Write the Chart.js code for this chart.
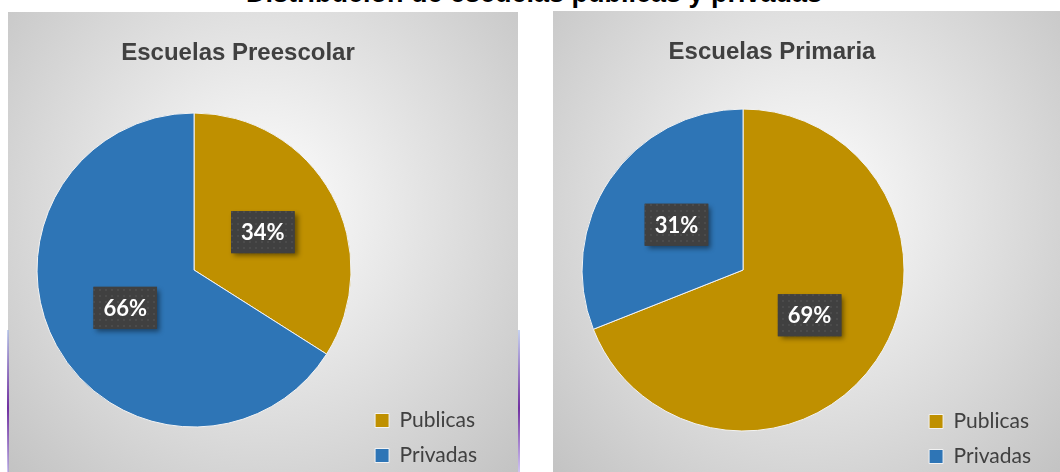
<!DOCTYPE html>
<html lang="es">
<head>
<meta charset="utf-8">
<title>Distribución de escuelas públicas y privadas</title>
<script src="https://cdn.jsdelivr.net/npm/chart.js@4.4.1/dist/chart.umd.min.js"></script>
<style>
  html, body { margin: 0; padding: 0; background: #fff; }
  body { width: 1060px; height: 472px; overflow: hidden; position: relative; }
  #main-title {
    position: absolute; left: 0; width: 1068px; top: -22px; text-align: center;
    font: bold 27px "Liberation Sans", Arial, sans-serif; color: #000; white-space: nowrap;
  }
  .panel {
    position: absolute;
    background: radial-gradient(ellipse at 50% 42%, #ffffff 0%, #f1f1f1 22%, #d9d9d9 62%, #c2c2c2 100%);
  }
  #panel-pre { left: 8px; top: 12px; width: 510px; height: 468px; }
  #panel-pri { left: 553px; top: 11px; width: 507px; height: 470px; }
  .panel canvas { position: absolute; left: 0; top: 0; }
  .panel-title {
    position: absolute; top: 26px; text-align: center; white-space: nowrap;
    font: bold 24px "Liberation Sans", Arial, sans-serif; color: #404040;
  }
  #panel-pre .panel-title { left: 0; width: 460px; }
  #panel-pri .panel-title { left: 0; width: 438px; }
  .edge {
    position: absolute; width: 2px; top: 330px; height: 142px;
    background: linear-gradient(to bottom, rgba(160,180,230,0.6), #7030a0 55%, rgba(160,140,230,0.5));
  }
</style>
</head>
<body>
<div id="main-title">Distribución de escuelas públicas y privadas</div>
<div class="panel" id="panel-pre"><canvas id="chart-pre"></canvas><div class="panel-title"></div></div>
<div class="panel" id="panel-pri"><canvas id="chart-pri"></canvas><div class="panel-title"></div></div>
<div class="edge" style="left:7px"></div>
<div class="edge" style="left:518px"></div>
<script>
"use strict";

const categories = ["Publicas", "Privadas"];
const preescolarValues = [34, 66];
const primariaValues = [69, 31];
const chartTitles = ["Escuelas Preescolar", "Escuelas Primaria"];
const sliceColors = ["#BF9000", "#2E75B6"];

// small dotted texture for the dark label boxes
function labelPattern(ctx) {
  const c = document.createElement("canvas");
  c.width = 6; c.height = 6;
  const p = c.getContext("2d");
  p.fillStyle = "#404040";
  p.fillRect(0, 0, 6, 6);
  p.fillStyle = "#4b4b4b";
  p.fillRect(1, 1, 2, 2);
  return ctx.createPattern(c, "repeat");
}

const percentBoxes = {
  id: "percentBoxes",
  afterDatasetsDraw(chart) {
    const ctx = chart.ctx;
    const meta = chart.getDatasetMeta(0);
    const values = chart.data.datasets[0].data;
    ctx.save();
    ctx.font = "bold 22px Lato, 'Open Sans', sans-serif";
    ctx.textAlign = "center";
    ctx.textBaseline = "middle";
    meta.data.forEach((arc, i) => {
      const { x, y } = arc.tooltipPosition();
      const text = `${values[i]}%`;
      const w = ctx.measureText(text).width + 20;
      const h = 42;
      ctx.save();
      ctx.shadowColor = "rgba(0,0,0,0.45)";
      ctx.shadowBlur = 5;
      ctx.shadowOffsetX = 3;
      ctx.shadowOffsetY = 3;
      ctx.fillStyle = "#404040";
      ctx.fillRect(x - w / 2, y - h / 2, w, h);
      ctx.restore();
      ctx.fillStyle = labelPattern(ctx);
      ctx.fillRect(x - w / 2, y - h / 2, w, h);
      ctx.fillStyle = "#ffffff";
      ctx.fillText(text, x, y + 1);
    });
    ctx.restore();
  },
};

function pieChart(canvasId, values, radius, padding) {
  const canvas = document.getElementById(canvasId);
  const panel = canvas.parentElement;
  canvas.width = panel.clientWidth;
  canvas.height = panel.clientHeight;
  return new Chart(canvas, {
    type: "pie",
    data: {
      labels: categories,
      datasets: [{
        data: values,
        backgroundColor: sliceColors,
        borderColor: "#f2f2f2",
        borderWidth: 1,
        radius: radius,
      }],
    },
    options: {
      responsive: false,
      animation: false,
      layout: { padding },
      plugins: {
        tooltip: { enabled: false },
        legend: {
          position: "right",
          align: "end",
          labels: {
            color: "#404040",
            font: { family: "Lato, 'Open Sans', sans-serif", size: 21 },
            boxWidth: 14,
            boxHeight: 14,
            padding: 14,
          },
        },
      },
    },
    plugins: [percentBoxes],
  });
}

document.querySelector("#panel-pre .panel-title").textContent = chartTitles[0];
document.querySelector("#panel-pri .panel-title").textContent = chartTitles[1];

pieChart("chart-pre", preescolarValues, 157, { left: 19, right: 31, top: 48, bottom: 0 });
pieChart("chart-pri", primariaValues, 161, { left: 18, right: 19, top: 48, bottom: 0 });
</script>
</body>
</html>
